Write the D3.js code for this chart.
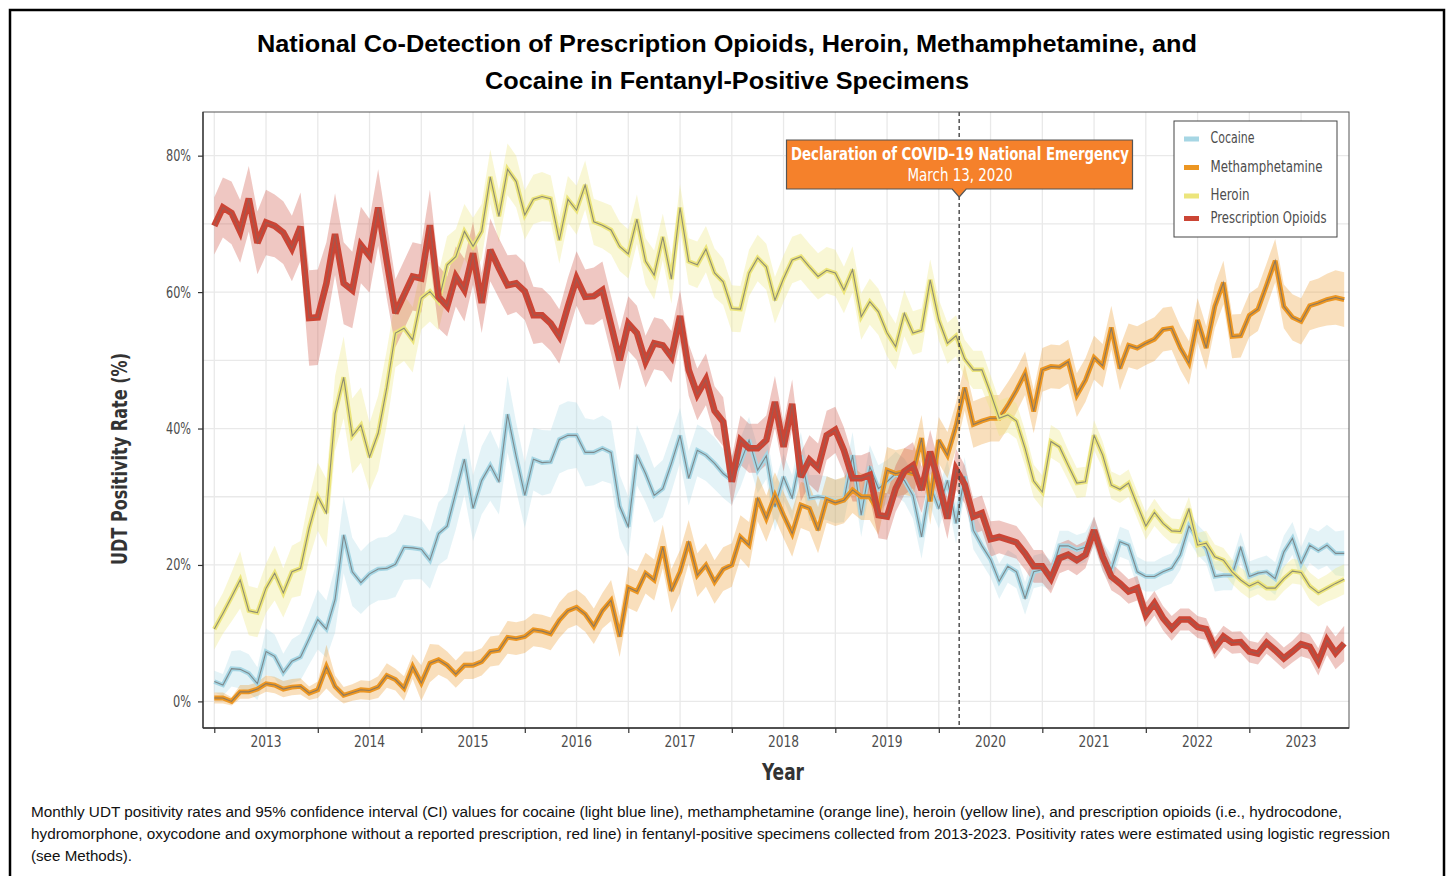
<!DOCTYPE html>
<html><head><meta charset="utf-8">
<script src="https://cdn.jsdelivr.net/npm/d3@7"></script>
<style>
body{margin:0;background:#fff;}
svg{display:block;}
</style>
</head><body>
<svg id="chart" width="1450" height="876"></svg>
<script>
// ---------------- DATA ----------------
const startYear = 2013;              // first month = Jan 2013, monthly to Dec 2023
const monthCount = 132;
const yearLabels = ["2013","2014","2015","2016","2017","2018","2019","2020","2021","2022","2023"];
const yTicks = [0, 20, 40, 60, 80];
const seriesNames = ["Cocaine", "Methamphetamine", "Heroin", "Prescription Opioids"];

const cocaine = [
 2.9,2.4,4.8,4.7,4.1,2.6,7.3,6.6,4.2,5.9,6.5,9.2,
 12.0,10.6,14.9,24.4,19.0,17.4,18.7,19.4,19.5,20.1,22.6,22.5,
 22.3,20.7,24.6,25.7,30.6,35.5,28.3,32.4,34.6,32.2,42.1,35.9,
 30.2,35.5,35.0,35.1,38.4,39.0,39.0,36.5,36.5,37.1,36.5,28.6,
 25.6,36.1,33.4,30.2,31.2,34.9,39.0,32.7,36.8,36.1,34.9,33.4,
 32.4,35.0,38.3,33.9,36.0,28.5,32.9,29.8,36.1,29.8,30.0,29.8,
 29.3,29.5,36.1,27.3,34.4,31.2,32.2,33.4,32.4,30.2,24.1,31.7,
 28.3,32.4,26.1,33.0,25.1,22.8,20.8,17.6,19.8,19.0,15.1,19.0,
 19.3,18.5,22.8,22.8,22.2,22.6,24.9,21.2,19.3,23.4,22.9,19.0,
 18.3,18.3,19.0,19.5,21.5,25.7,23.7,22.4,18.3,18.5,18.5,22.6,
 18.3,18.8,19.0,18.0,21.9,23.9,20.2,22.9,22.1,22.9,21.7,21.7];
const cocaineCI = [
 1.6,1.6,2.6,2.8,2.8,2.4,3.4,3.2,2.8,3.2,3.4,3.8,
 4.4,4.2,4.8,5.6,5.0,4.6,4.6,4.6,4.6,4.8,4.8,4.6,
 4.4,4.2,4.6,4.8,5.4,5.2,4.8,5.0,5.2,4.8,5.6,5.0,
 4.8,4.6,4.8,4.6,5.0,5.0,4.8,5.0,4.8,4.8,4.6,4.6,
 4.4,4.4,4.2,4.0,4.2,4.2,4.0,4.0,3.8,3.8,3.8,3.6,
 3.6,3.6,3.4,3.4,3.4,3.6,3.4,3.4,3.4,3.4,3.2,3.2,
 3.2,3.2,3.4,3.2,3.2,3.4,3.2,3.2,3.2,3.4,3.2,3.2,
 3.0,3.0,3.0,2.8,2.8,2.6,2.6,2.6,2.4,2.4,2.4,2.4,
 2.4,2.2,2.2,2.2,2.2,2.2,2.2,2.2,2.2,2.2,2.2,2.2,
 2.2,2.2,2.2,2.2,2.2,2.2,2.2,2.2,2.2,2.2,2.2,2.2,
 2.2,2.2,2.4,2.4,2.4,2.4,2.4,2.6,2.8,3.0,3.2,3.4];

const methamphetamine = [
 0.5,0.5,0.0,1.4,1.4,1.8,2.6,2.4,1.8,2.1,2.2,1.2,
 1.7,5.1,2.2,0.9,1.3,1.7,1.6,2.1,3.8,3.2,1.9,5.1,
 2.7,5.6,6.1,5.3,4.0,5.3,5.3,5.8,7.3,7.5,9.4,9.2,
 9.5,10.5,10.3,9.9,11.9,13.3,13.8,12.8,11.0,13.3,14.8,9.5,
 16.7,16.1,18.8,17.8,22.7,16.2,19.0,23.4,18.5,20.0,17.5,19.4,
 20.0,24.1,22.9,29.8,26.8,30.2,27.3,24.6,28.8,28.3,25.1,29.6,
 29.1,29.5,31.0,30.0,30.0,27.8,33.9,33.4,33.7,33.4,38.6,29.3,
 38.3,36.1,40.4,46.0,40.6,41.1,41.5,41.5,43.4,45.6,48.1,42.5,
 48.6,49.1,49.0,49.8,44.9,47.1,50.4,49.2,54.8,48.8,52.2,51.8,
 52.5,53.1,54.5,54.7,51.8,49.6,55.9,51.8,57.9,61.4,53.5,53.6,
 56.6,57.5,61.0,64.6,57.9,56.3,55.7,58.0,58.4,58.9,59.2,58.9];
const methamphetamineCI = [
 0.8,0.8,0.6,1.0,1.0,1.0,1.2,1.2,1.2,1.2,1.2,1.0,
 1.2,3.2,1.6,1.2,1.2,1.4,1.4,1.6,1.8,1.6,1.8,1.8,
 2.6,2.8,2.2,2.0,2.0,2.0,2.0,2.0,2.2,2.2,2.4,2.4,
 2.4,2.4,2.4,2.4,2.6,2.6,2.6,2.6,2.6,2.6,3.0,3.0,
 3.0,3.0,3.0,3.0,3.2,3.2,3.2,3.2,3.2,3.2,3.2,3.2,
 3.2,3.2,3.4,3.4,3.4,3.4,3.4,3.4,3.4,3.4,3.4,3.4,
 3.4,3.4,3.4,3.4,3.4,3.4,3.4,3.4,3.4,3.4,3.4,3.4,
 3.4,3.4,3.4,3.4,3.4,3.4,3.4,3.4,3.4,3.2,3.2,3.2,
 3.2,3.2,3.2,3.2,3.2,3.2,3.2,3.2,3.2,3.2,3.2,3.2,
 3.2,3.2,3.2,3.2,3.2,3.2,3.2,3.2,3.2,3.2,3.2,3.2,
 3.2,3.2,3.2,3.2,3.2,3.4,3.4,3.6,3.6,3.8,4.0,4.0];

const heroin = [
 10.6,12.9,15.3,17.8,13.3,13.0,16.6,18.8,15.9,19.0,19.5,25.4,
 30.0,27.6,42.2,47.5,38.9,40.5,35.8,39.3,46.0,54.0,54.7,53.0,
 59.1,60.1,58.6,64.0,65.2,68.9,66.7,68.9,76.9,71.1,78.0,76.2,
 71.3,73.6,74.0,73.7,67.6,73.6,72.0,75.7,70.3,69.8,69.1,66.7,
 65.6,70.7,64.5,62.5,68.1,61.9,72.4,64.5,64.0,66.3,62.8,61.5,
 57.6,57.5,62.8,65.0,63.7,58.8,62.0,64.7,65.2,63.7,62.3,63.2,
 62.8,60.3,63.3,56.4,58.6,57.1,54.0,52.0,56.9,54.0,54.4,61.8,
 55.9,52.5,53.6,50.2,48.6,48.6,45.2,41.5,42.0,41.1,37.1,32.3,
 30.7,38.1,37.3,34.6,32.0,32.2,39.0,36.1,31.7,31.1,32.0,28.8,
 25.7,27.7,26.1,25.0,24.9,28.2,22.9,23.2,21.2,20.7,19.0,17.8,
 16.9,17.5,16.6,16.6,18.0,19.1,18.9,16.9,15.9,16.6,17.3,17.9];
const heroinCI = [
 3.0,3.0,3.6,4.2,3.6,3.6,3.6,4.0,3.6,3.8,4.0,4.5,
 5.0,5.0,5.5,6.0,5.5,5.5,5.0,5.5,5.5,5.0,4.8,4.8,
 4.6,4.4,4.2,4.2,4.0,4.0,4.2,4.0,4.0,3.8,3.8,3.8,
 3.6,3.6,3.6,3.4,3.4,3.4,3.6,3.6,3.4,3.4,3.6,3.6,
 3.6,3.6,3.4,3.6,3.4,3.6,3.4,3.4,3.4,3.4,3.6,3.4,
 3.4,3.4,3.4,3.4,3.4,3.4,3.4,3.4,3.4,3.4,3.4,3.4,
 3.4,3.4,3.4,3.4,3.4,3.4,3.4,3.4,3.4,3.2,3.2,3.0,
 3.0,3.0,3.0,2.8,2.8,2.8,2.6,2.6,2.6,2.6,2.6,2.4,
 2.4,2.4,2.4,2.2,2.2,2.2,2.2,2.0,2.0,2.0,2.0,2.0,
 2.0,2.0,1.8,1.8,1.8,1.8,1.8,1.8,1.8,1.8,1.8,1.8,
 1.8,1.8,1.8,1.8,1.8,1.8,1.8,2.0,2.0,2.0,2.2,2.2];

const prescriptionOpioids = [
 69.7,72.4,71.6,68.9,73.7,67.2,70.2,69.7,68.7,66.4,69.6,56.2,
 56.3,61.3,68.5,61.3,60.3,66.9,65.3,72.4,64.5,56.9,59.6,62.3,
 62.0,69.8,59.3,57.9,62.3,60.3,65.7,58.4,66.2,63.5,61.0,61.3,
 60.1,56.6,56.6,55.4,53.5,57.9,62.0,59.3,59.4,60.3,55.2,50.0,
 55.4,54.0,49.8,52.5,52.2,50.5,56.5,48.6,45.0,47.2,42.6,41.0,
 32.2,38.3,37.1,37.1,38.3,43.9,37.3,43.6,32.9,35.4,34.2,39.0,
 39.8,36.8,32.7,32.7,33.2,27.3,27.1,31.2,33.7,34.6,31.0,36.6,
 32.0,26.8,34.0,31.8,27.1,27.6,23.8,24.1,23.7,23.3,21.7,19.8,
 19.8,18.0,21.0,21.5,20.7,21.5,25.1,21.2,18.3,17.3,16.1,16.6,
 12.7,14.4,12.2,10.7,12.0,12.0,10.9,10.6,7.8,9.5,8.6,8.7,
 7.3,7.0,8.6,7.5,6.3,7.3,8.4,8.0,5.8,9.0,7.1,8.5];
const prescriptionOpioidsCI = [
 4.2,4.4,4.6,4.6,4.8,4.6,4.8,4.6,4.6,4.8,5.0,7.0,
 7.0,6.0,6.0,6.0,5.6,5.6,5.4,5.6,5.4,5.0,5.0,5.0,
 5.0,5.2,4.6,4.4,4.4,4.6,4.6,4.4,4.6,4.4,4.4,4.2,
 4.2,4.2,4.0,4.0,4.0,4.2,4.0,4.0,4.2,4.2,4.2,4.4,
 4.0,4.0,3.8,3.8,3.8,3.8,3.8,3.8,3.8,3.8,3.6,3.6,
 3.6,3.6,3.6,3.6,3.6,3.8,3.6,3.6,3.6,3.6,3.6,3.6,
 3.4,3.4,3.4,3.4,3.4,3.4,3.4,3.4,3.4,3.4,3.4,3.2,
 3.0,3.0,3.0,2.8,2.6,2.6,2.6,2.4,2.4,2.4,2.4,2.4,
 2.4,2.2,2.2,2.2,2.2,2.0,2.0,2.0,2.0,1.8,1.8,1.8,
 1.8,1.8,1.8,1.8,1.6,1.6,1.6,1.6,1.6,1.6,1.6,1.6,
 1.6,1.6,1.6,1.6,1.6,1.6,1.8,1.8,2.0,2.2,2.4,2.6];

const covidDate = 2020 + 72/366;   // March 13, 2020 as fractional year

// ---------------- STYLE ----------------
const colors = {
  "Cocaine": "#a6d6e4",
  "Methamphetamine": "#ec9622",
  "Heroin": "#ece57c",
  "Prescription Opioids": "#cb4535"
};
const condensed = "'Liberation Sans Narrow','DejaVu Sans Condensed','Roboto Condensed',sans-serif";
const arial = "'Liberation Sans',Arial,Helvetica,sans-serif";

// squeeze a text element to a given rendered width
function fit(sel, w) {
  sel.attr("textLength", w).attr("lengthAdjust", "spacingAndGlyphs");
  return sel;
}

const svg = d3.select("#chart");
const panel = {left: 203, top: 112, right: 1349, bottom: 728};

// Frame
svg.append("rect").attr("x", 10).attr("y", 10).attr("width", 1434).attr("height", 900)
  .attr("fill", "none").attr("stroke", "#000").attr("stroke-width", 2.5);

// Scales
const x = d3.scaleLinear().domain([2012.891, 2023.963]).range([panel.left, panel.right]);
const y = d3.scaleLinear().domain([-3.9, 86.4]).range([panel.bottom, panel.top]);
const monthX = i => x(startYear + i / 12);

// Title
fit(svg.append("text").attr("x", 727).attr("y", 52).attr("text-anchor", "middle")
  .attr("font-family", arial).attr("font-weight", "bold").attr("font-size", 24.5).attr("fill", "#000")
  .text("National Co-Detection of Prescription Opioids, Heroin, Methamphetamine, and"), 940);
fit(svg.append("text").attr("x", 727).attr("y", 89).attr("text-anchor", "middle")
  .attr("font-family", arial).attr("font-weight", "bold").attr("font-size", 24.5).attr("fill", "#000")
  .text("Cocaine in Fentanyl-Positive Specimens"), 484);

// Grid
const g = svg.append("g");
const gridY = d3.range(0, 81, 10);
g.selectAll("line.gy").data(gridY).join("line").attr("class", "gy")
  .attr("x1", panel.left).attr("x2", panel.right)
  .attr("y1", d => y(d)).attr("y2", d => y(d))
  .attr("stroke", "#e9e9e9").attr("stroke-width", 1.3);
const gridX = d3.range(2013, 2024, 0.5);
g.selectAll("line.gx").data(gridX).join("line").attr("class", "gx")
  .attr("y1", panel.top).attr("y2", panel.bottom)
  .attr("x1", d => x(d)).attr("x2", d => x(d))
  .attr("stroke", "#e9e9e9").attr("stroke-width", 1.3);

// Series
const series = [
  {name: "Cocaine", values: cocaine, ci: cocaineCI, w: 4.5, ribbonOpacity: 0.3},
  {name: "Methamphetamine", values: methamphetamine, ci: methamphetamineCI, w: 4.8, ribbonOpacity: 0.3},
  {name: "Heroin", values: heroin, ci: heroinCI, w: 4.5, ribbonOpacity: 0.32},
  {name: "Prescription Opioids", values: prescriptionOpioids, ci: prescriptionOpioidsCI, w: 6.5, ribbonOpacity: 0.3}
];

svg.append("clipPath").attr("id", "pclip").append("rect")
  .attr("x", panel.left).attr("y", panel.top).attr("width", panel.right - panel.left).attr("height", panel.bottom - panel.top);

const plot = svg.append("g").attr("clip-path", "url(#pclip)");
series.forEach(s => {
  const pts = s.values.map((v, i) => ({i, v, lo: Math.max(-0.6, v - s.ci[i]), hi: v + s.ci[i]}));
  plot.append("path").datum(pts)
    .attr("d", d3.area().x(d => monthX(d.i)).y0(d => y(d.lo)).y1(d => y(d.hi)))
    .attr("fill", colors[s.name]).attr("fill-opacity", s.ribbonOpacity).attr("stroke", "none");
});
series.forEach(s => {
  const pts = s.values.map((v, i) => ({i, v}));
  const line = d3.line().x(d => monthX(d.i)).y(d => y(d.v));
  plot.append("path").datum(pts).attr("d", line)
    .attr("fill", "none").attr("stroke", colors[s.name]).attr("stroke-width", s.w)
    .attr("stroke-linejoin", "miter").attr("stroke-miterlimit", 3);
  plot.append("path").datum(pts).attr("d", line)
    .attr("fill", "none").attr("stroke", "#6f6f6f").attr("stroke-width", 1.1)
    .attr("stroke-opacity", s.name === "Prescription Opioids" ? 0.45 : 0.75);
});

// COVID line
svg.append("line").attr("x1", x(covidDate)).attr("x2", x(covidDate))
  .attr("y1", panel.top).attr("y2", panel.bottom)
  .attr("stroke", "#444").attr("stroke-width", 1.4).attr("stroke-dasharray", "4,3");

// Panel border & axes
svg.append("rect").attr("x", panel.left).attr("y", panel.top)
  .attr("width", panel.right - panel.left).attr("height", panel.bottom - panel.top)
  .attr("fill", "none").attr("stroke", "#555").attr("stroke-width", 1);
svg.append("line").attr("x1", panel.left).attr("x2", panel.left).attr("y1", panel.top).attr("y2", panel.bottom)
  .attr("stroke", "#333").attr("stroke-width", 1.3);
svg.append("line").attr("x1", panel.left).attr("x2", panel.right).attr("y1", panel.bottom).attr("y2", panel.bottom)
  .attr("stroke", "#333").attr("stroke-width", 1.3);

// Y axis
const yAxis = svg.append("g").attr("transform", `translate(${panel.left},0)`)
  .call(d3.axisLeft(y).tickValues(yTicks).tickFormat(d => d + "%").tickSize(5).tickPadding(7));
yAxis.select(".domain").remove();
yAxis.selectAll(".tick line").attr("stroke", "#333").attr("stroke-width", 1.2);
yAxis.selectAll(".tick text").attr("font-family", condensed).attr("font-size", 15.5).attr("fill", "#4d4d4d")
  .attr("textLength", d => d === 0 ? 18 : 25).attr("lengthAdjust", "spacingAndGlyphs");

// X axis: ticks at Jan 1, labels at mid-year
const xTickG = svg.append("g").attr("transform", `translate(0,${panel.bottom})`)
  .call(d3.axisBottom(x).tickValues(d3.range(2013, 2024)).tickFormat("").tickSize(5));
xTickG.select(".domain").remove();
xTickG.selectAll(".tick line").attr("stroke", "#333").attr("stroke-width", 1.2);
svg.append("g").selectAll("text").data(yearLabels).join("text")
  .attr("x", d => x(+d + 0.5)).attr("y", 747).attr("text-anchor", "middle")
  .attr("font-family", condensed).attr("font-size", 15.5).attr("fill", "#4d4d4d")
  .attr("textLength", 31).attr("lengthAdjust", "spacingAndGlyphs").text(d => d);

// Axis titles
fit(svg.append("text").attr("transform", "translate(127,459) rotate(-90)").attr("text-anchor", "middle")
  .attr("font-family", condensed).attr("font-weight", "bold").attr("font-size", 21).attr("fill", "#333")
  .text("UDT Positivity Rate (%)"), 212);
fit(svg.append("text").attr("x", 783).attr("y", 780).attr("text-anchor", "middle")
  .attr("font-family", condensed).attr("font-weight", "bold").attr("font-size", 23).attr("fill", "#333")
  .text("Year"), 42);

// Legend
const leg = svg.append("g");
leg.append("rect").attr("x", 1174).attr("y", 121).attr("width", 163).attr("height", 116)
  .attr("fill", "#fff").attr("stroke", "#444").attr("stroke-width", 1);
const legRows = [139, 167.5, 196, 218.5];
const legWidths = [44, 112, 39, 116];
seriesNames.forEach((n, k) => {
  leg.append("rect").attr("x", 1184).attr("y", legRows[k] - 2.5).attr("width", 15).attr("height", 5)
    .attr("fill", colors[n]);
  fit(leg.append("text").attr("x", 1210.5).attr("y", legRows[k] + 4)
    .attr("font-family", condensed).attr("font-size", 16.5).attr("fill", "#4d4d4d").text(n), legWidths[k]);
});

// Annotation
const cx = x(covidDate);
const ann = svg.append("g");
ann.append("path")
  .attr("d", `M786.5,140 H1132.5 V189 H${cx + 7} L${cx},197 L${cx - 7},189 H786.5 Z`)
  .attr("fill", "#f5812b").attr("stroke", "#555").attr("stroke-width", 1.2);
fit(ann.append("text").attr("x", 960).attr("y", 160).attr("text-anchor", "middle")
  .attr("font-family", condensed).attr("font-weight", "bold").attr("font-size", 18.5).attr("fill", "#fff")
  .text("Declaration of COVID\u201319 National Emergency"), 338);
fit(ann.append("text").attr("x", 960).attr("y", 181).attr("text-anchor", "middle")
  .attr("font-family", condensed).attr("font-size", 18).attr("fill", "#fff")
  .text("March 13, 2020"), 105);

// Caption
const capLines = [
 "Monthly UDT positivity rates and 95% confidence interval (CI) values for cocaine (light blue line), methamphetamine (orange line), heroin (yellow line), and prescription opioids (i.e., hydrocodone,",
 "hydromorphone, oxycodone and oxymorphone without a reported prescription, red line) in fentanyl-positive specimens collected from 2013-2023. Positivity rates were estimated using logistic regression",
 "(see Methods)."];
const capWidths = [1311, 1359, 101];
capLines.forEach((t, k) => {
  fit(svg.append("text").attr("x", 31).attr("y", 817 + k * 21.8)
    .attr("font-family", arial).attr("font-size", 15.2).attr("fill", "#111").text(t), capWidths[k]);
});
</script>
</body></html>
